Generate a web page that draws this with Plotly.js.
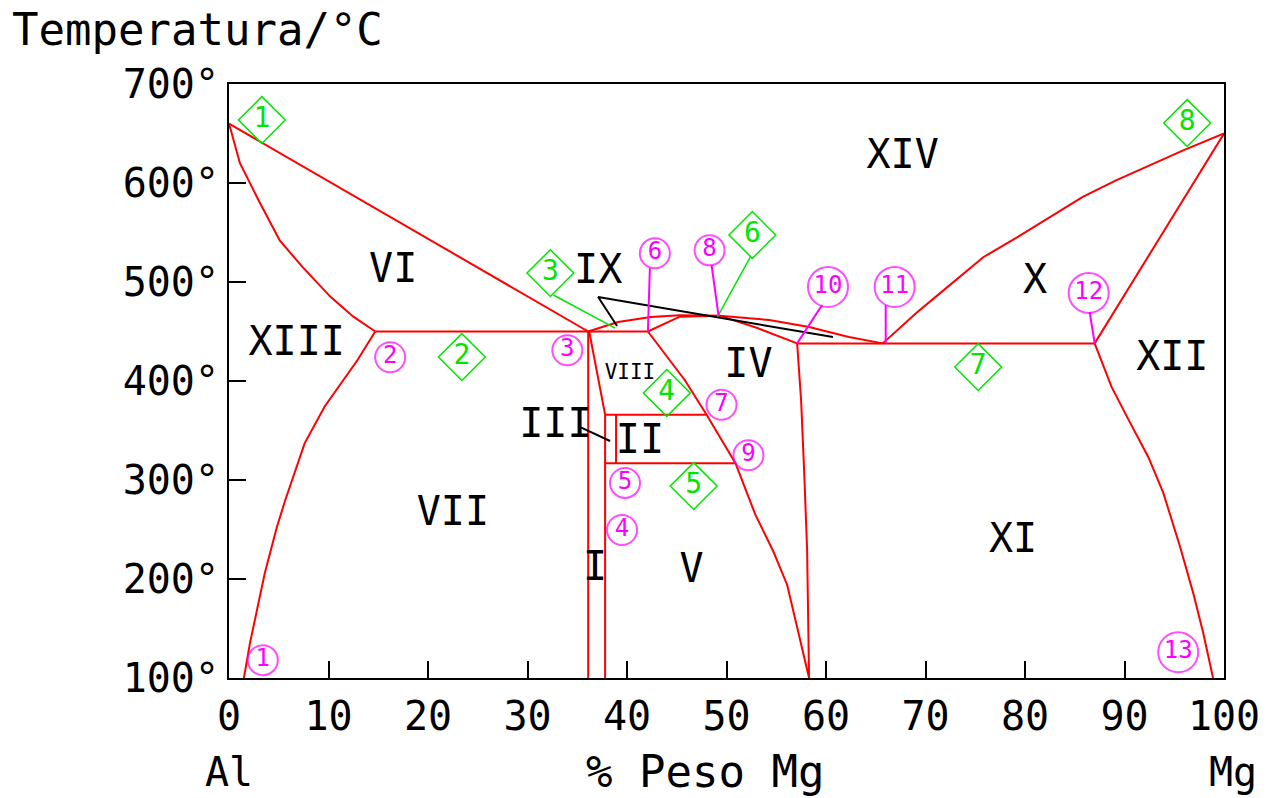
<!DOCTYPE html>
<html>
<head>
<meta charset="utf-8">
<script src="https://cdn.plot.ly/plotly-3.0.1.min.js"></script>
<style>
  html, body { margin: 0; padding: 0; background: #ffffff; }
  #chart { width: 1274px; height: 798px; }
</style>
</head>
<body>
<div id="chart"></div>
<script>
// Al–Mg equilibrium diagram: composition in % Peso Mg, temperature in °C

// Al-rich side
const alLiquidusX = [0, 18, 36.1];
const alLiquidusT = [660, 555, 450];
const alSolidusX = [0, 1.1, 3.1, 5.1, 7.4, 10.2, 12.5, 14.7];
const alSolidusT = [660, 620, 580, 542, 515, 485, 465, 450];
const alSolvusX = [14.7, 12.9, 9.6, 7.6, 5.6, 4.8, 3.6, 2.8, 2.1, 1.5];
const alSolvusT = [450, 421, 374, 337, 278, 252, 206, 169, 135, 100];
const eutecticLowX = [14.7, 42.1];
const eutecticLowT = [450, 450];

// intermediate phases
const betaLeftX = [36.1, 36.1];
const betaLeftT = [450, 100];
const betaRightX = [36.2, 37.8, 37.8];
const betaRightT = [450, 366, 100];
const upperIsoX = [37.8, 48.0];
const upperIsoT = [366, 366];
const lowerIsoX = [37.8, 50.9];
const lowerIsoT = [317, 317];
const innerX = [38.9, 38.9];
const innerT = [366, 317];
const gammaSolvusX = [42.1, 45.8, 48.0, 50.9, 52.9, 54.7, 56.1, 56.8, 57.5, 58.3];
const gammaSolvusT = [450, 401, 366, 317, 265, 228, 194, 164, 133, 100];
const gammaSolidusX = [42.1, 45.3, 49.3, 53.1, 57.1];
const gammaSolidusT = [450, 465, 466, 453.5, 438];
const midLiquidusX = [36.1, 39.1, 42.4, 45.3, 49.3, 54.3, 58.3, 62.3, 65.7];
const midLiquidusT = [450, 459.6, 464.6, 466.5, 466, 461.6, 454.5, 444.4, 438];
const gammaRightX = [57.1, 57.5, 57.8, 58.1, 58.3];
const gammaRightT = [438, 380, 310, 230, 100];

// Mg-rich side
const eutecticHighX = [57.1, 87.0];
const eutecticHighT = [438, 438];
const mgLiquidusX = [65.7, 69.1, 71.5, 75.8, 79.2, 85.8, 89.2, 95.9, 100];
const mgLiquidusT = [438, 469, 489, 525, 545, 586, 603, 633, 650];
const mgSolidusX = [87.0, 100];
const mgSolidusT = [438, 650];
const mgSolvusX = [87.0, 88.7, 90.4, 92.4, 93.9, 95.6, 96.9, 97.9, 98.9];
const mgSolvusT = [438, 394, 361, 323, 287, 232, 186, 146, 100];

// pointer lines
const ixPointerX = [39.0, 37.1, 60.7];
const ixPointerT = [455.6, 484.8, 444.4];
const iiiPointerX = [35.3, 38.3];
const iiiPointerT = [353.5, 339.4];
const greenLeaderX = [[32.6, 38.8], [52.4, 49.1]];
const greenLeaderT = [[486.9, 453.5], [525.3, 465]];
const pinkLeaderX = [[42.3, 42.1], [48.5, 49.2], [59.6, 57.1], [66.0, 66.0], [86.5, 87.0]];
const pinkLeaderT = [[514, 450], [517, 466], [476.8, 438], [476.8, 438], [469.7, 438]];

// numbered points
const circleLabels = ['1', '2', '3', '4', '5', '6', '7', '8', '9', '10', '11', '12', '13'];
const circleX = [3.4, 16.2, 34.0, 39.5, 39.8, 42.8, 49.5, 48.3, 52.2, 60.2, 66.9, 86.4, 95.4];
const circleT = [118, 424, 431, 249.5, 297, 529, 376, 532, 325, 495, 495, 489, 126];
const diamondLabels = ['1', '2', '3', '4', '5', '6', '7', '8'];
const diamondX = [3.3, 23.4, 32.3, 44.0, 46.7, 52.6, 75.3, 96.3];
const diamondT = [663.6, 424.2, 509, 387.9, 293.9, 547.5, 414.1, 660.6];

// phase field names
const fieldLabels = ['XIV', 'VI', 'IX', 'XIII', 'IV', 'X', 'XII', 'III', 'II', 'VII', 'XI', 'I', 'V'];
const fieldX = [67.7, 16.5, 37.1, 6.8, 52.2, 81.0, 94.8, 32.8, 41.3, 22.5, 78.8, 36.8, 46.5];
const fieldT = [625, 510, 509, 436, 414, 499, 421, 353.5, 337.4, 264.6, 237.4, 209.1, 207.1];
const smallFieldLabels = ['VIII'];
const smallFieldX = [40.3];
const smallFieldT = [407];

// axis ticks
const xTickVals = [0, 10, 20, 30, 40, 50, 60, 70, 80, 90, 100];
const xTickText = ['0', '10', '20', '30', '40', '50', '60', '70', '80', '90', '100'];
const yTickVals = [100, 200, 300, 400, 500, 600, 700];
const yTickText = ['100°', '200°', '300°', '400°', '500°', '600°', '700°'];

const FONT = 'DejaVu Sans Mono, Liberation Mono, monospace';
const RED = '#ff0000';
const PINK = '#ff00ff';
const GREEN = '#00e600';

function line(x, y, color, width) {
  return {
    type: 'scatter', mode: 'lines', x: x, y: y,
    line: { color: color, width: width },
    hoverinfo: 'skip', showlegend: false
  };
}

const traces = [];

// phase boundaries
[
  [alLiquidusX, alLiquidusT], [alSolidusX, alSolidusT], [alSolvusX, alSolvusT],
  [eutecticLowX, eutecticLowT], [betaLeftX, betaLeftT], [betaRightX, betaRightT],
  [upperIsoX, upperIsoT], [lowerIsoX, lowerIsoT], [innerX, innerT],
  [gammaSolvusX, gammaSolvusT], [gammaSolidusX, gammaSolidusT],
  [midLiquidusX, midLiquidusT], [gammaRightX, gammaRightT],
  [eutecticHighX, eutecticHighT], [mgLiquidusX, mgLiquidusT],
  [mgSolidusX, mgSolidusT], [mgSolvusX, mgSolvusT]
].forEach(function (p) { traces.push(line(p[0], p[1], RED, 2)); });

// pointers
traces.push(line(ixPointerX, ixPointerT, '#000000', 2));
traces.push(line(iiiPointerX, iiiPointerT, '#000000', 2));
greenLeaderX.forEach(function (x, i) { traces.push(line(x, greenLeaderT[i], GREEN, 1.5)); });
pinkLeaderX.forEach(function (x, i) { traces.push(line(x, pinkLeaderT[i], PINK, 2)); });

// circled point numbers
traces.push({
  type: 'scatter', mode: 'markers+text',
  x: circleX, y: circleT, text: circleLabels,
  textposition: 'middle center',
  textfont: { family: FONT, size: 24, color: PINK },
  marker: {
    symbol: 'circle-open', color: PINK,
    size: circleLabels.map(function (s) { return s.length > 1 ? 40 : 30; }),
    line: { color: PINK, width: 2 }
  },
  hoverinfo: 'skip', showlegend: false, cliponaxis: false
});

// diamond point numbers
traces.push({
  type: 'scatter', mode: 'markers+text',
  x: diamondX, y: diamondT, text: diamondLabels,
  textposition: 'middle center',
  textfont: { family: FONT, size: 28, color: GREEN },
  marker: {
    symbol: 'diamond-open', color: GREEN, size: 36,
    line: { color: GREEN, width: 1.5 }
  },
  hoverinfo: 'skip', showlegend: false, cliponaxis: false
});

// field names
traces.push({
  type: 'scatter', mode: 'text',
  x: fieldX, y: fieldT, text: fieldLabels,
  textposition: 'middle center',
  textfont: { family: FONT, size: 40, color: '#000000' },
  hoverinfo: 'skip', showlegend: false
});
traces.push({
  type: 'scatter', mode: 'text',
  x: smallFieldX, y: smallFieldT, text: smallFieldLabels,
  textposition: 'middle center',
  textfont: { family: FONT, size: 21, color: '#000000' },
  hoverinfo: 'skip', showlegend: false
});

const axisCommon = {
  showgrid: false, zeroline: false,
  showline: true, mirror: true, linecolor: '#000000', linewidth: 2,
  ticks: 'inside', ticklen: 17, tickwidth: 2, tickcolor: '#000000',
  tickfont: { family: FONT, size: 40, color: '#000000' },
  tickmode: 'array', fixedrange: true
};

const bottomFont = { family: FONT, size: 40, color: '#000000' };

const layout = {
  width: 1274, height: 798,
  margin: { l: 229, r: 50, t: 84, b: 120 },
  paper_bgcolor: '#ffffff', plot_bgcolor: '#ffffff',
  showlegend: false,
  title: {
    text: 'Temperatura/°C',
    font: { family: FONT, size: 44, color: '#000000' },
    x: 12 / 1274, xref: 'container', xanchor: 'left',
    y: 1 - 30 / 798, yref: 'container', yanchor: 'middle'
  },
  xaxis: Object.assign({}, axisCommon, {
    range: [0, 100], tickvals: xTickVals, ticktext: xTickText,
    ticklabelstandoff: 2
  }),
  yaxis: Object.assign({}, axisCommon, {
    range: [100, 700], tickvals: yTickVals, ticktext: yTickText,
    ticklabelstandoff: 0
  }),
  annotations: [
    { text: 'Al', x: 0, xref: 'paper', y: -0.158, yref: 'paper', showarrow: false,
      xanchor: 'center', yanchor: 'middle', font: bottomFont },
    { text: '% Peso Mg', x: 0.478, xref: 'paper', y: -0.158, yref: 'paper', showarrow: false,
      xanchor: 'center', yanchor: 'middle', font: { family: FONT, size: 44, color: '#000000' } },
    { text: 'Mg', x: 1.009, xref: 'paper', y: -0.158, yref: 'paper', showarrow: false,
      xanchor: 'center', yanchor: 'middle', font: bottomFont }
  ]
};

Plotly.newPlot('chart', traces, layout, { displayModeBar: false, staticPlot: true });
</script>
</body>
</html>
